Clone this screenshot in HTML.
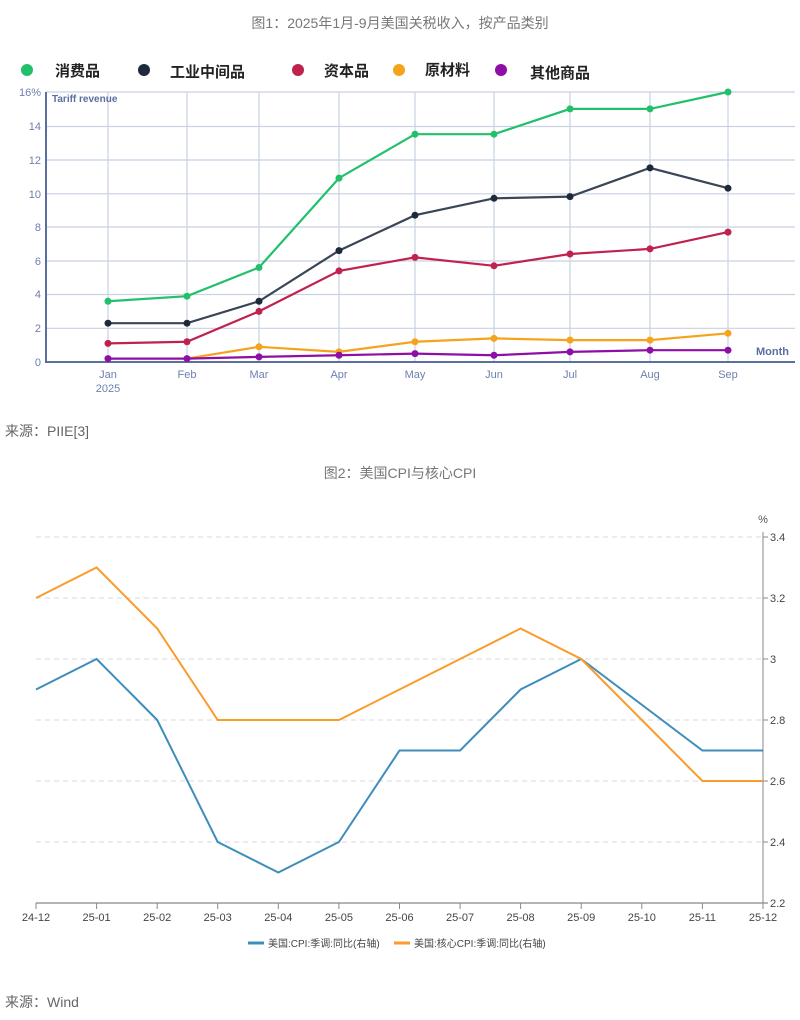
<!DOCTYPE html>
<html><head><meta charset="utf-8"><style>
body{margin:0;background:#fff;width:800px;height:1020px;overflow:hidden;font-family:"Liberation Sans","Noto Sans CJK SC",sans-serif}
</style></head><body>
<svg width="800" height="1020" xmlns="http://www.w3.org/2000/svg" style="position:absolute;left:0;top:0">
<g font-family="Liberation Sans, Noto Sans CJK SC, sans-serif">
<text x="400" y="28" text-anchor="middle" font-size="14" fill="#777">图1：2025年1月-9月美国关税收入，按产品类别</text>
<!-- legend -->
<g font-size="15" font-weight="bold" fill="#222">
<circle cx="27" cy="70" r="6" fill="#22c06a"/><text x="55" y="76">消费品</text>
<circle cx="144" cy="70" r="6" fill="#1e2a3c"/><text x="170" y="77">工业中间品</text>
<circle cx="298" cy="70" r="6" fill="#c0224f"/><text x="324" y="76">资本品</text>
<circle cx="399" cy="70" r="6" fill="#f5a31d"/><text x="425" y="75">原材料</text>
<circle cx="501" cy="70" r="6" fill="#8e0ea6"/><text x="530" y="78">其他商品</text>
</g>
<!-- grid -->
<g stroke="#c9d1e3" stroke-width="1.2">
<line x1="46" y1="92" x2="795" y2="92"/><line x1="46" y1="126.5" x2="795" y2="126.5"/><line x1="46" y1="160" x2="795" y2="160"/><line x1="46" y1="193.8" x2="795" y2="193.8"/><line x1="46" y1="227" x2="795" y2="227"/><line x1="46" y1="261" x2="795" y2="261"/><line x1="46" y1="294.5" x2="795" y2="294.5"/><line x1="46" y1="328.3" x2="795" y2="328.3"/>
<line x1="108" y1="92" x2="108" y2="362"/><line x1="187" y1="92" x2="187" y2="362"/><line x1="259" y1="92" x2="259" y2="362"/><line x1="339" y1="92" x2="339" y2="362"/><line x1="415" y1="92" x2="415" y2="362"/><line x1="494" y1="92" x2="494" y2="362"/><line x1="570" y1="92" x2="570" y2="362"/><line x1="650" y1="92" x2="650" y2="362"/><line x1="728" y1="92" x2="728" y2="362"/>
</g>
<line x1="46" y1="92" x2="46" y2="363" stroke="#5a6f9e" stroke-width="2"/>
<line x1="46" y1="362" x2="795" y2="362" stroke="#5a6f9e" stroke-width="2"/>
<text x="52" y="102" font-size="10" font-weight="bold" fill="#5a6f9e">Tariff revenue</text>
<text x="756" y="355" font-size="11" font-weight="bold" fill="#5a6f9e">Month</text>
<g font-size="11" fill="#6d80ad" text-anchor="end">
<text x="41" y="96">16%</text><text x="41" y="130">14</text><text x="41" y="164">12</text><text x="41" y="198">10</text><text x="41" y="231">8</text><text x="41" y="265">6</text><text x="41" y="298">4</text><text x="41" y="332">2</text><text x="41" y="366">0</text>
</g>
<g font-size="11" fill="#6d80ad" text-anchor="middle">
<text x="108" y="378">Jan</text><text x="108" y="392">2025</text><text x="187" y="378">Feb</text><text x="259" y="378">Mar</text><text x="339" y="378">Apr</text><text x="415" y="378">May</text><text x="494" y="378">Jun</text><text x="570" y="378">Jul</text><text x="650" y="378">Aug</text><text x="728" y="378">Sep</text>
</g>
<g fill="none" stroke-width="2.2">
<polyline stroke="#f5a31d" points="187,358.6 259,346.8 339,351.9 415,341.75 494,338.4 570,340.1 650,340.1 728,333.3"/>
<polyline stroke="#8e0ea6" points="108,358.6 187,358.6 259,356.9 339,355.25 415,353.6 494,355.25 570,351.9 650,350.2 728,350.2"/>
<polyline stroke="#c0224f" points="108,343.4 187,341.75 259,311.4 339,270.9 415,257.4 494,265.8 570,254 650,248.9 728,232.1"/>
<polyline stroke="#3a4556" points="108,323.2 187,323.2 259,301.25 339,250.6 415,215.2 494,198.3 570,196.6 650,167.9 728,188.2"/>
<polyline stroke="#22c06a" points="108,301.25 187,296.2 259,267.5 339,178.1 415,134.2 494,134.2 570,108.9 650,108.9 728,92"/>
</g>
<g fill="#f5a31d"><circle cx="259" cy="346.8" r="3.5"/><circle cx="339" cy="351.9" r="3.5"/><circle cx="415" cy="341.75" r="3.5"/><circle cx="494" cy="338.4" r="3.5"/><circle cx="570" cy="340.1" r="3.5"/><circle cx="650" cy="340.1" r="3.5"/><circle cx="728" cy="333.3" r="3.5"/></g>
<g fill="#8e0ea6"><circle cx="108" cy="358.6" r="3.5"/><circle cx="187" cy="358.6" r="3.5"/><circle cx="259" cy="356.9" r="3.5"/><circle cx="339" cy="355.25" r="3.5"/><circle cx="415" cy="353.6" r="3.5"/><circle cx="494" cy="355.25" r="3.5"/><circle cx="570" cy="351.9" r="3.5"/><circle cx="650" cy="350.2" r="3.5"/><circle cx="728" cy="350.2" r="3.5"/></g>
<g fill="#c0224f"><circle cx="108" cy="343.4" r="3.5"/><circle cx="187" cy="341.75" r="3.5"/><circle cx="259" cy="311.4" r="3.5"/><circle cx="339" cy="270.9" r="3.5"/><circle cx="415" cy="257.4" r="3.5"/><circle cx="494" cy="265.8" r="3.5"/><circle cx="570" cy="254" r="3.5"/><circle cx="650" cy="248.9" r="3.5"/><circle cx="728" cy="232.1" r="3.5"/></g>
<g fill="#1e2a3c"><circle cx="108" cy="323.2" r="3.5"/><circle cx="187" cy="323.2" r="3.5"/><circle cx="259" cy="301.25" r="3.5"/><circle cx="339" cy="250.6" r="3.5"/><circle cx="415" cy="215.2" r="3.5"/><circle cx="494" cy="198.3" r="3.5"/><circle cx="570" cy="196.6" r="3.5"/><circle cx="650" cy="167.9" r="3.5"/><circle cx="728" cy="188.2" r="3.5"/></g>
<g fill="#22c06a"><circle cx="108" cy="301.25" r="3.5"/><circle cx="187" cy="296.2" r="3.5"/><circle cx="259" cy="267.5" r="3.5"/><circle cx="339" cy="178.1" r="3.5"/><circle cx="415" cy="134.2" r="3.5"/><circle cx="494" cy="134.2" r="3.5"/><circle cx="570" cy="108.9" r="3.5"/><circle cx="650" cy="108.9" r="3.5"/><circle cx="728" cy="92" r="3.5"/></g>
<text x="5" y="436" font-size="14" fill="#666">来源：PIIE[3]</text>

<!-- chart 2 -->
<text x="400" y="478" text-anchor="middle" font-size="14" fill="#777">图2：美国CPI与核心CPI</text>
<text x="763" y="523" text-anchor="middle" font-size="11" fill="#555">%</text>
<g stroke="#d8d8d8" stroke-dasharray="5,4">
<line x1="36" y1="537" x2="763" y2="537"/><line x1="36" y1="598" x2="763" y2="598"/><line x1="36" y1="659" x2="763" y2="659"/><line x1="36" y1="720" x2="763" y2="720"/><line x1="36" y1="781" x2="763" y2="781"/><line x1="36" y1="842" x2="763" y2="842"/>
</g>
<line x1="763" y1="532" x2="763" y2="909" stroke="#888"/>
<line x1="36" y1="903" x2="768" y2="903" stroke="#888" stroke-width="1.3"/>
<g stroke="#888"><line x1="763" y1="537" x2="768" y2="537"/><line x1="763" y1="598" x2="768" y2="598"/><line x1="763" y1="659" x2="768" y2="659"/><line x1="763" y1="720" x2="768" y2="720"/><line x1="763" y1="781" x2="768" y2="781"/><line x1="763" y1="842" x2="768" y2="842"/>
<line x1="36" y1="903" x2="36" y2="909"/><line x1="96.6" y1="903" x2="96.6" y2="909"/><line x1="157.2" y1="903" x2="157.2" y2="909"/><line x1="217.7" y1="903" x2="217.7" y2="909"/><line x1="278.3" y1="903" x2="278.3" y2="909"/><line x1="338.9" y1="903" x2="338.9" y2="909"/><line x1="399.5" y1="903" x2="399.5" y2="909"/><line x1="460.1" y1="903" x2="460.1" y2="909"/><line x1="520.6" y1="903" x2="520.6" y2="909"/><line x1="581.2" y1="903" x2="581.2" y2="909"/><line x1="641.8" y1="903" x2="641.8" y2="909"/><line x1="702.4" y1="903" x2="702.4" y2="909"/></g>
<g font-size="11" fill="#444">
<text x="770" y="541">3.4</text><text x="770" y="602">3.2</text><text x="770" y="663">3</text><text x="770" y="724">2.8</text><text x="770" y="785">2.6</text><text x="770" y="846">2.4</text><text x="770" y="907">2.2</text>
</g>
<g font-size="11" fill="#444" text-anchor="middle">
<text x="36" y="921">24-12</text><text x="96.6" y="921">25-01</text><text x="157.2" y="921">25-02</text><text x="217.7" y="921">25-03</text><text x="278.3" y="921">25-04</text><text x="338.9" y="921">25-05</text><text x="399.5" y="921">25-06</text><text x="460.1" y="921">25-07</text><text x="520.6" y="921">25-08</text><text x="581.2" y="921">25-09</text><text x="641.8" y="921">25-10</text><text x="702.4" y="921">25-11</text><text x="763" y="921">25-12</text>
</g>
<g fill="none" stroke-width="2">
<polyline stroke="#3e8dbb" points="36,689.5 96.6,659 157.2,720 217.7,842 278.3,872.5 338.9,842 399.5,750.5 460.1,750.5 520.6,689.5 581.2,659 641.8,704.75 702.4,750.5 763,750.5"/>
<polyline stroke="#fb9b2c" points="36,598 96.6,567.5 157.2,628.5 217.7,720 278.3,720 338.9,720 399.5,689.5 460.1,659 520.6,628.5 581.2,659 641.8,720 702.4,781 763,781"/>
</g>
<line x1="248" y1="943" x2="264" y2="943" stroke="#3e8dbb" stroke-width="3"/>
<text x="268" y="947" font-size="10" fill="#444">美国:CPI:季调:同比(右轴)</text>
<line x1="394" y1="943" x2="410" y2="943" stroke="#fb9b2c" stroke-width="3"/>
<text x="414" y="947" font-size="10" fill="#444">美国:核心CPI:季调:同比(右轴)</text>
<text x="5" y="1007" font-size="14" fill="#666">来源：Wind</text>
</g>
</svg>
</body></html>
